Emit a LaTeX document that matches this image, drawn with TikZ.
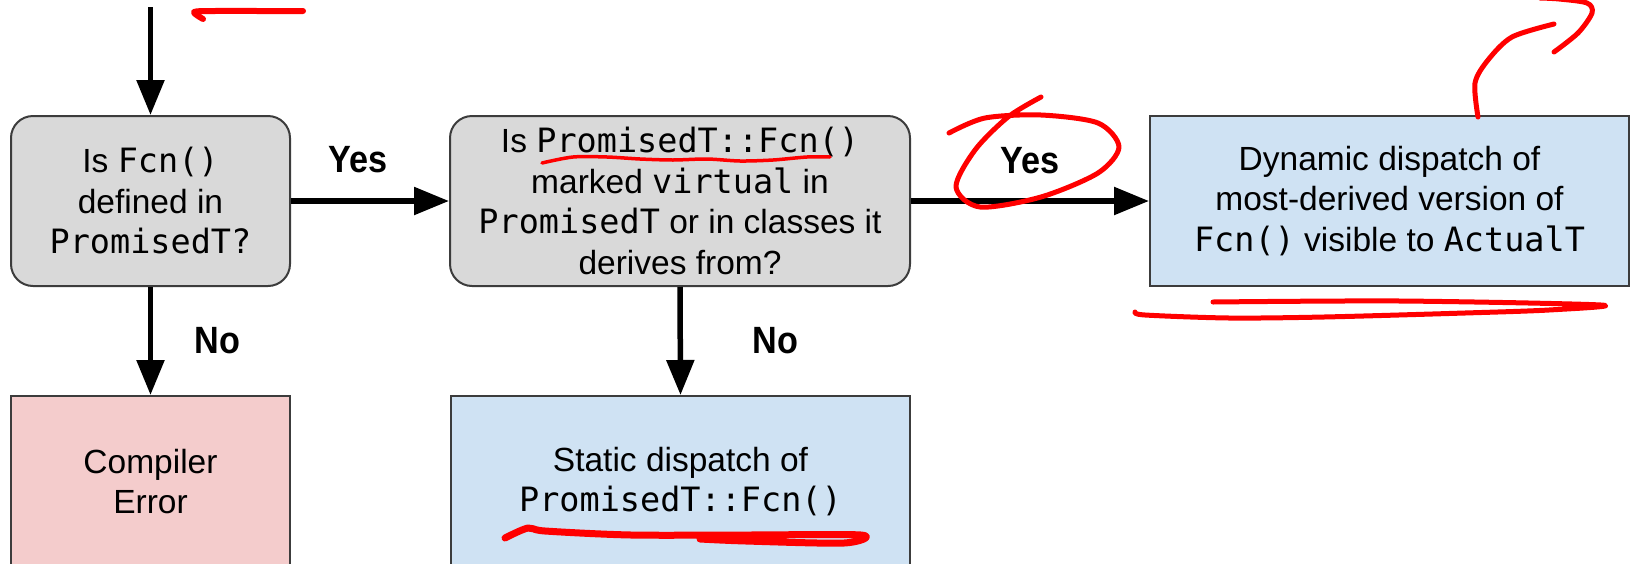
\documentclass[tikz,border=0pt]{standalone}
\usepackage{fontspec}
\setmainfont{Liberation Sans}
\setmonofont{DejaVu Sans Mono}
\usetikzlibrary{arrows.meta}
\definecolor{boxline}{HTML}{3C3C3C}
\definecolor{qgrey}{HTML}{D9D9D9}
\definecolor{qblue}{HTML}{CFE2F3}
\definecolor{qpink}{HTML}{F4CCCC}
\definecolor{inkred}{HTML}{FF0000}
\begin{document}
\begin{tikzpicture}[x=1pt,y=-1pt,
  nodebox/.style={draw=boxline, line width=2pt, minimum height=170pt, inner sep=0pt,
    align=center, font=\fontsize{33.5}{40.5}\selectfont},
  decision/.style={nodebox, fill=qgrey, rounded corners=22pt},
  outcome/.style={nodebox, fill=qblue},
  errbox/.style={nodebox, fill=qpink},
  flow/.style={line width=5.5pt, -{Triangle[length=35pt,width=27pt]}},
  lbl/.style={font=\fontsize{38}{40}\selectfont\bfseries, inner sep=0pt},
  redink/.style={draw=inkred, line width=5pt, line cap=round, line join=round}]
\useasboundingbox (0,0) rectangle (1638,563);
\clip (0,0) rectangle (1638,563);

\node[decision, minimum width=279pt] (q1) at (150.5,201)
  {Is \texttt{Fcn()}\\defined in\\\texttt{PromisedT?}};
\node[decision, minimum width=460pt] (q2) at (680,201)
  {Is \texttt{PromisedT::Fcn()}\\marked \texttt{virtual} in\\\texttt{PromisedT} or in classes it\\derives from?};
\node[outcome, minimum width=479pt] (dyn) at (1389.5,201)
  {Dynamic dispatch of\\most-derived version of\\\texttt{Fcn()} visible to \texttt{ActualT}};
\node[errbox, minimum width=279pt, minimum height=171pt] (err) at (150.5,481.5)
  {Compiler\\Error};
\node[outcome, minimum width=459pt, minimum height=171pt] (stat) at (680.5,481.5)
  {Static dispatch of\\\texttt{PromisedT::Fcn()}};

\coordinate (start) at (150.5,7);
\draw[flow] (start) -- (q1.north);
\draw[flow] (q1.east) -- node[lbl, xshift=-12pt, yshift=41pt] {\scalebox{0.9}[1]{Yes}} (q2.west);
\draw[flow] (q2.east) -- node[lbl, yshift=40pt] {\scalebox{0.9}[1]{Yes}} (dyn.west);
\draw[flow] (q1.south) -- node[lbl, xshift=67pt] {\scalebox{0.9}[1]{No}} (err.north);
\draw[flow] (q2.south) -- node[lbl, xshift=95pt] {\scalebox{0.9}[1]{No}} (stat.north);

% hand-drawn red annotations
\draw[redink, line width=6pt] plot[smooth] coordinates {(203,19) (194,12) (215,11) (260,11) (303,11)};
\draw[redink, line width=3.5pt] plot[smooth] coordinates {(542,163) (573,157) (607,157) (640,159) (673,160) (707,159) (740,161) (773,160) (807,157) (830,157)};
\draw[redink] plot[smooth] coordinates {(1041,97) (1008,117) (975,150) (956,187) (980,207) (1041,197) (1098,173) (1119,147) (1098,123) (1041,115) (985,118) (949,133)};
\draw[redink] plot[smooth] coordinates {(1478,117) (1475,83) (1488,60) (1512,37) (1554,24)};
\draw[redink] plot[smooth] coordinates {(1554,52) (1578,33) (1592,13) (1587,3) (1559,-1) (1540,-2)};
\draw[redink] plot[smooth] coordinates {(1213,302) (1400,301) (1601,305) (1549,310) (1465,313) (1324,317) (1229,318) (1145,315) (1135,312)};
\draw[redink, line width=7pt] plot[smooth] coordinates {(505,538) (528,528) (545,531) (631,535) (746,535) (861,535) (844,543) (746,541) (700,539)};
\end{tikzpicture}
\end{document}
